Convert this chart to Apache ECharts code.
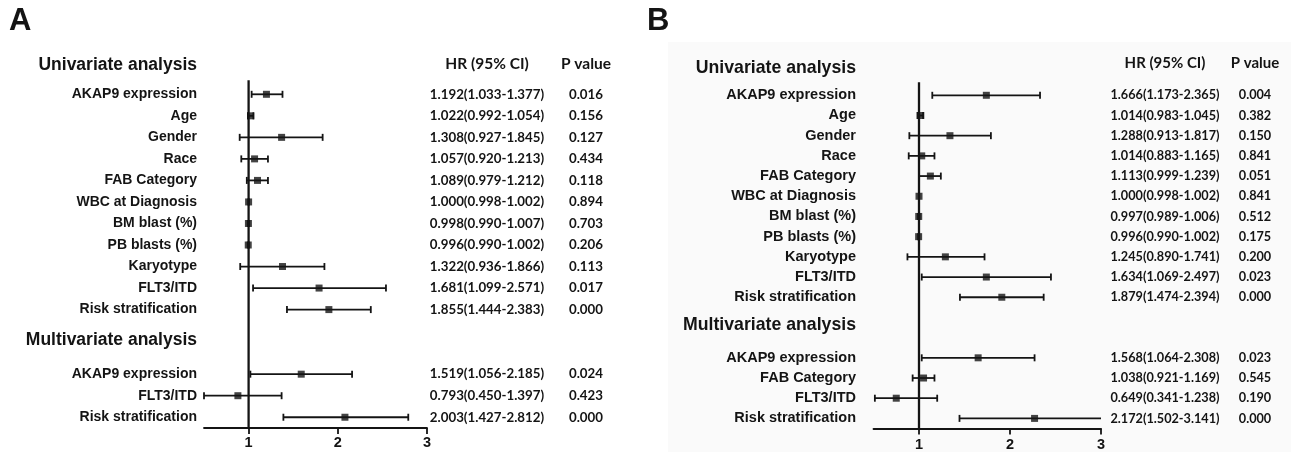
<!DOCTYPE html>
<html><head><meta charset="utf-8">
<script src="https://cdn.jsdelivr.net/npm/echarts@6/dist/echarts.min.js"></script>
<style>html,body{margin:0;padding:0;background:#fff}#c{width:1291px;height:452px}</style>
</head><body><div id="c"></div>
<script>
// ---------- Panel A data ----------
const uniLabelsA = ['AKAP9 expression','Age','Gender','Race','FAB Category','WBC at Diagnosis','BM blast (%)','PB blasts (%)','Karyotype','FLT3/ITD','Risk stratification'];
const multiLabelsA = ['AKAP9 expression','FLT3/ITD','Risk stratification'];
const hrTextA = ['1.192(1.033-1.377)','1.022(0.992-1.054)','1.308(0.927-1.845)','1.057(0.920-1.213)','1.089(0.979-1.212)','1.000(0.998-1.002)','0.998(0.990-1.007)','0.996(0.990-1.002)','1.322(0.936-1.866)','1.681(1.099-2.571)','1.855(1.444-2.383)','1.519(1.056-2.185)','0.793(0.450-1.397)','2.003(1.427-2.812)'];
const pTextA = ['0.016','0.156','0.127','0.434','0.118','0.894','0.703','0.206','0.113','0.017','0.000','0.024','0.423','0.000'];
// plotted marker / whisker positions
const markA = [1.20,1.023,1.37,1.067,1.10,1.000,0.998,0.996,1.38,1.79,1.90,1.59,0.88,2.08];
const loA   = [1.034,0.992,0.90,0.918,0.98,0.998,0.990,0.990,0.906,1.05,1.43,1.02,0.50,1.39];
const hiA   = [1.38,1.054,1.83,1.217,1.217,1.002,1.007,1.002,1.85,2.54,2.37,2.16,1.37,2.79];

// ---------- Panel B data ----------
const uniLabelsB = ['AKAP9 expression','Age','Gender','Race','FAB Category','WBC at Diagnosis','BM blast (%)','PB blasts (%)','Karyotype','FLT3/ITD','Risk stratification'];
const multiLabelsB = ['AKAP9 expression','FAB Category','FLT3/ITD','Risk stratification'];
const hrTextB = ['1.666(1.173-2.365)','1.014(0.983-1.045)','1.288(0.913-1.817)','1.014(0.883-1.165)','1.113(0.999-1.239)','1.000(0.998-1.002)','0.997(0.989-1.006)','0.996(0.990-1.002)','1.245(0.890-1.741)','1.634(1.069-2.497)','1.879(1.474-2.394)','1.568(1.064-2.308)','1.038(0.921-1.169)','0.649(0.341-1.238)','2.172(1.502-3.141)'];
const pTextB = ['0.004','0.382','0.150','0.841','0.051','0.841','0.512','0.175','0.200','0.023','0.000','0.023','0.545','0.190','0.000'];
const markB = [1.74,1.02,1.34,1.03,1.125,1.000,0.997,0.996,1.29,1.74,1.91,1.65,1.05,0.75,2.27];
const loB   = [1.146,0.983,0.894,0.887,1.00,0.998,0.989,0.990,0.873,1.03,1.45,1.03,0.93,0.515,1.445];
const hiB   = [2.33,1.045,1.79,1.17,1.24,1.002,1.006,1.002,1.72,2.45,2.37,2.27,1.17,1.20,3.10];

const xTicks = [1, 2, 3];
const xMin = 0.5, xMax = 3;
const headUni = 'Univariate analysis', headMulti = 'Multivariate analysis';
const headHR = 'HR (95% CI)', headP = 'P value';

const INK = '#141414';
const LABEL_FONT = '"Liberation Sans", Arial, sans-serif';
const NUM_FONT = 'Lato, "Open Sans", sans-serif';

const chart = echarts.init(document.getElementById('c'), null, {renderer: 'canvas'});

const option = {
  animation: false,
  backgroundColor: '#ffffff',
  grid: [], xAxis: [], yAxis: [], series: [],
  graphic: [
    {type: 'rect', z: -10, shape: {x: 668, y: 42, width: 623, height: 410}, style: {fill: '#fafafa'}, silent: true},
    {type: 'text', x: 9, y: 6, style: {text: 'A', font: 'bold 31px ' + LABEL_FONT, fill: INK}},
    {type: 'text', x: 647, y: 6, style: {text: 'B', font: 'bold 31px ' + LABEL_FONT, fill: INK}}
  ]
};

function addPanel(k, uni, multi, hrText, pText, mark, lo, hi, L) {
  const nU = uni.length;
  const cats = [headUni, ...uni, headMulti, '', ...multi];
  const hrCol = [headHR, ...hrText.slice(0, nU), '', '', ...hrText.slice(nU)];
  const pCol = [headP, ...pText.slice(0, nU), '', '', ...pText.slice(nU)];
  const rowIdx = mark.map((_, i) => i < nU ? i + 1 : i + 3);

  option.grid.push({left: L.left, top: L.top, width: L.width, height: L.height, containLabel: false});
  option.xAxis.push({
    type: 'value', gridIndex: k, min: xMin, max: xMax, interval: 0.5,
    axisLine: {show: true, onZero: false, lineStyle: {color: INK, width: 1.8}},
    axisTick: {show: true, customValues: xTicks, length: 6, lineStyle: {color: INK, width: 1.8}},
    axisLabel: {customValues: xTicks, color: INK, fontWeight: 'bold', fontSize: 14.5, fontFamily: LABEL_FONT, margin: L.tickMargin},
    splitLine: {show: false}
  });
  const base = {type: 'category', gridIndex: k, data: cats, inverse: true,
    axisLine: {show: false}, axisTick: {show: false}, splitLine: {show: false}};
  option.yAxis.push(Object.assign({}, base, {
    position: 'left',
    axisLabel: {interval: 0, margin: L.labelMargin, color: INK,
      formatter: (v, i) => i === 0 ? '{hu|' + v + '}' : (i === nU + 1 ? '{hm|' + v + '}' : (v ? '{n|' + v + '}' : '')),
      rich: {
        n: {fontSize: L.labelSize, fontWeight: 'bold', fontFamily: LABEL_FONT, color: INK},
        hu: {fontSize: L.headSize, fontWeight: 'bold', fontFamily: LABEL_FONT, color: INK, padding: [0, 0, L.headUp * 2, 0]},
        hm: {fontSize: L.headSize, fontWeight: 'bold', fontFamily: LABEL_FONT, color: INK, padding: [L.headDown * 2, 0, 0, 0]}
      }}
  }));
  [[hrCol, L.hrMargin], [pCol, L.pMargin]].forEach(([col, m]) => {
    option.yAxis.push(Object.assign({}, base, {
      position: 'right',
      axisLabel: {interval: 0, margin: m, align: 'center', color: INK,
        formatter: (v, i) => i === 0 ? '{h|' + col[0] + '}' : (col[i] ? '{n|' + col[i] + '}' : ''),
        rich: {
          n: {fontSize: L.numSize, fontWeight: 'bold', fontFamily: NUM_FONT, color: INK},
          h: {fontSize: L.colHeadSize, fontWeight: 'bold', fontFamily: NUM_FONT, color: INK, padding: [0, 0, L.colHeadUp * 2, 0]}
        }}
    }));
  });
  const yi = k * 3;
  // reference line at HR = 1
  option.series.push({
    type: 'custom', xAxisIndex: k, yAxisIndex: yi, silent: true, clip: false,
    data: [[1, 1]],
    renderItem: (params, api) => {
      const p = api.coord([api.value(0), api.value(1)]);
      const cs = params.coordSys;
      return {type: 'line', shape: {x1: p[0], y1: p[1] - L.refAbove, x2: p[0], y2: cs.y + cs.height},
        style: {stroke: INK, lineWidth: 2.3}};
    }
  });
  // confidence-interval whiskers
  option.series.push({
    type: 'custom', xAxisIndex: k, yAxisIndex: yi, silent: true, clip: false,
    encode: {x: [0, 1], y: 2},
    data: lo.map((l, i) => [l, hi[i], rowIdx[i]]),
    renderItem: (params, api) => {
      const l = api.value(0), h = api.value(1), y = api.value(2);
      const a = api.coord([Math.max(l, xMin), y]);
      const b = api.coord([Math.min(h, xMax), y]);
      const c = 3.5;
      const st = {stroke: INK, lineWidth: 1.8};
      const kids = [{type: 'line', shape: {x1: a[0], y1: a[1], x2: b[0], y2: b[1]}, style: st}];
      if (l >= xMin) kids.push({type: 'line', shape: {x1: a[0], y1: a[1] - c, x2: a[0], y2: a[1] + c}, style: st});
      if (h <= xMax) kids.push({type: 'line', shape: {x1: b[0], y1: b[1] - c, x2: b[0], y2: b[1] + c}, style: st});
      return {type: 'group', children: kids};
    }
  });
  // hazard-ratio markers
  option.series.push({
    type: 'scatter', xAxisIndex: k, yAxisIndex: yi, silent: true,
    symbol: 'rect', symbolSize: 7, itemStyle: {color: INK},
    data: mark.map((m, i) => [m, rowIdx[i]])
  });
}

addPanel(0, uniLabelsA, multiLabelsA, hrTextA, pTextA, markA, loA, hiA, {
  left: 204, top: 62, width: 223, height: 366, tickMargin: 7,
  labelMargin: 7, labelSize: 14, headSize: 17.5, headUp: 8, headDown: 9,
  hrMargin: 60, pMargin: 159, numSize: 13.3, colHeadSize: 15.5, colHeadUp: 9, refAbove: 14
});
addPanel(1, uniLabelsB, multiLabelsB, hrTextB, pTextB, markB, loB, hiB, {
  left: 873.5, top: 65, width: 227.5, height: 364, tickMargin: 8.5,
  labelMargin: 17.5, labelSize: 14.5, headSize: 17.7, headUp: 7, headDown: 8,
  hrMargin: 64, pMargin: 154, numSize: 12.7, colHeadSize: 15, colHeadUp: 12, refAbove: 13
});

chart.setOption(option);
</script>
</body></html>
